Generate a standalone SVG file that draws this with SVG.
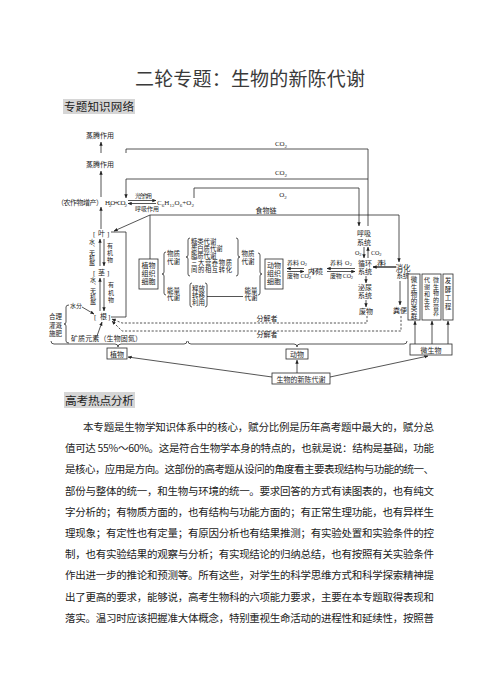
<svg xmlns="http://www.w3.org/2000/svg" width="499" height="691" viewBox="0 0 499 691">
<style>
text{font-family:"Liberation Serif","Noto Sans CJK SC","Noto Sans CJK JP",serif;fill:#1c1c1c}
.cj{font-family:"Noto Sans CJK SC","Noto Sans CJK JP",sans-serif}
.a{font-size:7px}
.b{font-size:6.5px}
.c{font-size:6px}
.f{font-size:6.3px}
.s{font-size:5px}
.s2{font-size:4.5px}
.m{text-anchor:middle}
.v{writing-mode:tb}
.ln{fill:none;stroke:#2a2a2a;stroke-width:0.8}
.ar{marker-end:url(#ah)}
.da{stroke-dasharray:2.2 1.6}
.bx{fill:#fff;stroke:#2a2a2a;stroke-width:0.8}
.body{font-size:10.5px;fill:#222}
.hl{fill:#d6d6d6}
</style>
<defs>
<marker id="ah" viewBox="0 0 6 6" refX="5.5" refY="3" markerWidth="4" markerHeight="4" orient="auto" markerUnits="userSpaceOnUse"><path d="M0,0.5 L6,3 L0,5.5 z" fill="#222"/></marker>
</defs>
<rect width="499" height="691" fill="#fff"/>

<text x="250" y="86" class="m cj" style="font-size:19px;fill:#3a3a3a" textLength="230">二轮专题：生物的新陈代谢</text>
<rect x="63" y="99" width="72" height="15" class="hl"/>
<text x="64" y="111" class="cj" style="font-size:11.5px" textLength="70">专题知识网络</text>

<g id="connectors">
<path class="ln" d="M126,153 V149 H368 V226"/>
<path class="ln ar" d="M368,179 H126 V198"/>
<path class="ln ar" d="M194,198 V188 H359 V226"/>
<path class="ln ar" d="M101,153 V142"/>
<path class="ln ar" d="M101,197 V171"/>
<path class="ln ar" d="M101,229 V207"/>
<path class="ln ar" d="M128,200.5 H156"/>
<path class="ln ar" d="M156,203.5 H128"/>
<path class="ln ar" d="M150,215 L114,231"/>
<path class="ln ar" d="M150,259 V215 H399 V262"/>
<path class="ln" d="M111,232 H126 V317 H111"/>
<path class="ln ar" d="M100,266 V239"/>
<path class="ln ar" d="M104,239 V266"/>
<path class="ln ar" d="M100,311 V278"/>
<path class="ln ar" d="M104,278 V311"/>
<path class="ln ar" d="M82,307 L94,314"/>
<path class="ln ar" d="M97,336 L102,322"/>
<path class="ln da ar" d="M367,316 V323 H122 L112,319"/>
<path class="ln da ar" d="M401,316 V331 H122 L112,321"/>
<path class="ln ar" d="M364,247 V258"/>
<path class="ln ar" d="M368,258 V247"/>
<path class="ln ar" d="M366,276 V283"/>
<path class="ln ar" d="M366,300 V307"/>
<path class="ln ar" d="M400,281 V305"/>
<path class="ln ar" d="M396,267 H373" style="stroke-width:1.4"/>
<path class="ln ar" d="M304,268.5 H287"/>
<path class="ln ar" d="M287,271.5 H304"/>
<path class="ln ar" d="M355,268.5 H327"/>
<path class="ln ar" d="M327,271.5 H355"/>
<path class="ln" d="M207,296.5 H243"/>
<path class="ln ar" d="M272,377 L128,357"/>
<path class="ln ar" d="M297,373 V360"/>
<path class="ln ar" d="M330,377 L428,356"/>
<path class="ln ar" d="M415,344 V321"/>
<path class="ln ar" d="M432,344 V321"/>
<path class="ln ar" d="M448,344 V321"/>
<path class="ln" d="M190,238 Q188,238 188,240 V255 Q188,257 186,257 Q188,257 188,259 V274 Q188,276 190,276"/>
<path class="ln" d="M236,238 Q238,238 238,240 V255 Q238,257 240,257 Q238,257 238,259 V274 Q238,276 236,276"/>
<path class="ln" d="M166,252 Q164,252 164,254 V272 Q164,274 162,274 Q164,274 164,276 V293 Q164,295 166,295"/>
<path class="ln" d="M258,253 Q260,253 260,255 V272 Q260,274 262,274 Q260,274 260,276 V293 Q260,295 258,295"/>
<path class="ln" d="M69,305 Q66,305 66,307 V322 Q66,324 64,324 Q66,324 66,326 V341 Q66,343 69,343"/>
<path class="ln" d="M51,341 Q51,344 54,344 H115 Q118,344 118,347 Q118,344 121,344 H184 Q187,344 187,341"/>
<path class="ln" d="M188,341 Q188,344 191,344 H294 Q297,344 297,347 Q297,344 300,344 H404 Q407,344 407,341"/>
<path class="ln" d="M192,283 Q190,283 190,285 V305 Q190,307 192,307"/>
<path class="ln" d="M205,283 Q207,283 207,285 V305 Q207,307 205,307"/>
</g>

<g id="labels">
<text class="a m" x="281" y="146">CO<tspan class="s" dy="1.5">2</tspan></text>
<text class="a m" x="281" y="175">CO<tspan class="s" dy="1.5">2</tspan></text>
<text class="a m" x="283" y="197">O<tspan class="s" dy="1.5">2</tspan></text>
<text class="a m" x="266" y="213">食物链</text>
<text class="a m" x="267" y="321">分解者</text>
<text class="a m" x="267" y="337">分解者</text>
<text x="135" y="198" style="font-size:5.5px" textLength="17">光合作用</text>
<text x="135" y="211" style="font-size:6px" textLength="24">呼吸作用</text>
<text class="c" x="377" y="265" textLength="9">养料</text>
<text class="c" x="355" y="255">O<tspan class="s2" dy="1.2">2</tspan></text>
<text class="c" x="371" y="255">CO<tspan class="s2" dy="1.2">2</tspan></text>
</g>

<g id="n-zhengteng1"><text class="a m" x="100" y="138">蒸腾作用</text></g>
<g id="n-zhengteng2"><text class="a m" x="100" y="167">蒸腾作用</text></g>
<g id="n-equation">
<text class="a" x="57" y="205" textLength="46">（农作物增产）</text>
<text class="a" x="105" y="205" textLength="22">H<tspan class="s" dy="1.5">2</tspan><tspan dy="-1.5">O+CO</tspan><tspan class="s" dy="1.5">2</tspan></text>
<text class="a" x="157" y="205" textLength="37">C<tspan class="s" dy="1.5">6</tspan><tspan dy="-1.5">H</tspan><tspan class="s" dy="1.5">12</tspan><tspan dy="-1.5">O</tspan><tspan class="s" dy="1.5">6</tspan><tspan dy="-1.5">+O</tspan><tspan class="s" dy="1.5">2</tspan></text>
</g>
<g id="n-ye"><text class="a"><tspan x="93" y="236">[</tspan><tspan x="98" y="236">叶</tspan><tspan x="107" y="236">]</tspan></text></g>
<g id="n-jing"><text class="a"><tspan x="93" y="275">[</tspan><tspan x="98" y="275">茎</tspan><tspan x="107" y="275">]</tspan></text></g>
<g id="n-gen"><text class="a"><tspan x="94" y="319">[</tspan><tspan x="100" y="319">根</tspan><tspan x="108" y="319">]</tspan></text></g>
<g id="n-shui1"><text class="c v cj" x="92" y="239" textLength="27">水、无机盐</text></g>
<g id="n-youji1"><text class="c v cj" x="110" y="242.5" textLength="20">有机物</text></g>
<g id="n-shui2"><text class="c v cj" x="93" y="277" textLength="28">水、无机盐</text></g>
<g id="n-youji2"><text class="c v cj" x="111" y="282" textLength="21">有机物</text></g>
<g id="n-shuifen"><text class="c" x="70" y="308">水分</text></g>
<g id="n-heli">
<text class="b"><tspan x="49" y="319">合理</tspan><tspan x="49" y="327.5">灌溉</tspan><tspan x="49" y="336">施肥</tspan></text>
</g>
<g id="n-kuangzhi"><text class="a" x="71" y="340.5" textLength="71">矿质元素（生物固氮）</text></g>

<g id="n-zhiwu-cell">
<rect class="bx" x="139" y="259" width="19" height="30"/>
<text class="a m"><tspan x="148.5" y="267.5">植物</tspan><tspan x="148.5" y="275.5">组织</tspan><tspan x="148.5" y="283.5">细胞</tspan></text>
</g>
<g id="n-wuzhi1"><text class="b m"><tspan x="173.5" y="256">物质</tspan><tspan x="173.5" y="263.5">代谢</tspan></text></g>
<g id="n-nengliang1"><text class="b m"><tspan x="173.5" y="292.5">能量</tspan><tspan x="173.5" y="300">代谢</tspan></text></g>
<g id="n-five">
<text class="f"><tspan x="191" y="244">糖类代谢</tspan><tspan x="191" y="251">蛋白质代谢</tspan><tspan x="191" y="258">脂质代谢</tspan><tspan x="191" y="265" textLength="41">三大营养物质</tspan><tspan x="191" y="272" textLength="41">间的相互转化</tspan></text>
</g>
<g id="n-shifang">
<text class="b m"><tspan x="198.5" y="290.5">释放</tspan><tspan x="198.5" y="297.5">转移</tspan><tspan x="198.5" y="304.5">利用</tspan></text>
</g>
<g id="n-wuzhi2"><text class="b m"><tspan x="248" y="256">物质</tspan><tspan x="248" y="263.5">代谢</tspan></text></g>
<g id="n-nengliang2"><text class="b m"><tspan x="251" y="292.5">能量</tspan><tspan x="251" y="300">代谢</tspan></text></g>
<g id="n-dongwu-cell">
<rect class="bx" x="265" y="259" width="18" height="30"/>
<text class="a m"><tspan x="274" y="267.5">动物</tspan><tspan x="274" y="275.5">组织</tspan><tspan x="274" y="283.5">细胞</tspan></text>
</g>
<g id="n-yl1">
<text class="c" x="287" y="265">养料 O<tspan class="s2" dy="1.2">2</tspan></text>
<text class="c" x="287" y="278">废物 CO<tspan class="s2" dy="1.2">2</tspan></text>
</g>
<g id="n-neihuanjing"><text class="b" x="308" y="273.5" textLength="15">内环境</text></g>
<g id="n-yl2">
<text class="c" x="330" y="265" textLength="22">养料 O<tspan class="s2" dy="1.2">2</tspan></text>
<text class="c" x="330" y="278" textLength="23">废物 CO<tspan class="s2" dy="1.2">2</tspan></text>
</g>
<g id="n-huxi"><text class="a m"><tspan x="364" y="236">呼吸</tspan><tspan x="364" y="244.5">系统</tspan></text></g>
<g id="n-xunhuan"><text class="a m"><tspan x="365" y="266">循环</tspan><tspan x="365" y="274">系统</tspan></text></g>
<g id="n-miniao"><text class="a m"><tspan x="365" y="290">泌尿</tspan><tspan x="365" y="298">系统</tspan></text></g>
<g id="n-feiwu"><text class="a m" x="366" y="314">废物</text></g>
<g id="n-xiaohua"><text class="m"><tspan x="403" y="270.5" style="font-size:7.5px">消化</tspan><tspan x="403" y="278" style="font-size:6.5px">系统</tspan></text></g>
<g id="n-fenbian"><text class="a m" x="400" y="313">粪便</text></g>

<g id="n-leiqun">
<rect class="bx" x="408" y="274" width="12" height="46"/>
<text class="b v cj" x="414" y="276.5" textLength="43">微生物的类群</text>
</g>
<g id="n-yingyang">
<rect class="bx" x="422" y="274" width="19" height="46"/>
<text class="c v cj" x="436" y="277" textLength="39">微生物的营养</text>
<text class="c v cj" x="427" y="277" textLength="33">代谢和生长</text>
</g>
<g id="n-fajiao">
<rect class="bx" x="443" y="274" width="10" height="46"/>
<text class="b v cj" x="448" y="277.5" textLength="32">发酵工程</text>
</g>

<g id="n-zhiwu"><rect class="bx" x="107" y="348" width="20" height="11"/><text class="a m" x="117" y="356.5">植物</text></g>
<g id="n-dongwu"><rect class="bx" x="286" y="349" width="22" height="10"/><text class="a m" x="297" y="357">动物</text></g>
<g id="n-weishengwu"><rect class="bx" x="410" y="344" width="42" height="11"/><text class="a m" x="431" y="352.5">微生物</text></g>
<g id="n-xinchen"><rect class="bx" x="272" y="373" width="58" height="11"/><text class="a m" x="301" y="381.5">生物的新陈代谢</text></g>

<rect x="64" y="392" width="71" height="16" class="hl"/>
<text x="65" y="405" class="cj" style="font-size:11.7px" textLength="69">高考热点分析</text>

<g id="body">
<text class="body cj" x="83" y="431" textLength="351">本专题是生物学知识体系中的核心，赋分比例是历年高考题中最大的，赋分总</text>
<text class="body cj" x="65" y="452.2" textLength="369">值可达 55%～60%。这是符合生物学本身的特点的，也就是说：结构是基础，功能</text>
<text class="body cj" x="65" y="473.4" textLength="369">是核心，应用是方向。这部份的高考题从设问的角度看主要表现结构与功能的统一、</text>
<text class="body cj" x="65" y="494.6" textLength="369">部份与整体的统一，和生物与环境的统一。要求回答的方式有读图表的，也有纯文</text>
<text class="body cj" x="65" y="515.8" textLength="369">字分析的；有物质方面的，也有结构与功能方面的；有正常生理功能，也有异样生</text>
<text class="body cj" x="65" y="537" textLength="369">理现象；有定性也有定量；有原因分析也有结果推测；有实验处置和实验条件的控</text>
<text class="body cj" x="65" y="558.2" textLength="369">制，也有实验结果的观察与分析；有实现结论的归纳总结，也有按照有关实验条件</text>
<text class="body cj" x="65" y="579.4" textLength="369">作出进一步的推论和预测等。所有这些，对学生的科学思维方式和科学探索精神提</text>
<text class="body cj" x="65" y="600.6" textLength="369">出了更高的要求，能够说，高考生物科的六项能力要求，主要在本专题取得表现和</text>
<text class="body cj" x="65" y="621.8" textLength="369">落实。温习时应该把握准大体概念，特别重视生命活动的进程性和延续性，按照普</text>
</g>
</svg>
